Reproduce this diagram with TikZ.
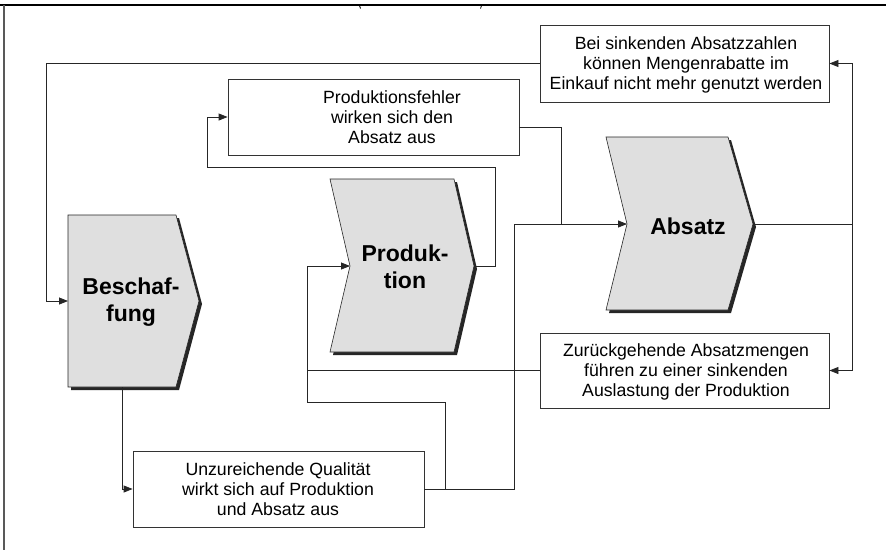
\documentclass[tikz,border=0pt]{standalone}
\usepackage{fontspec}
\setmainfont{Liberation Sans}
\usetikzlibrary{arrows.meta,calc}

\begin{document}
\begin{tikzpicture}[x=1pt,y=-1pt,
  conn/.style={draw=black!85, line width=0.8pt},
  arr/.style={conn, -{Triangle[length=9pt,width=7pt]}},
  notebox/.style={draw=black!80, line width=0.8pt, fill=white, inner sep=0pt},
  notetext/.style={align=center, inner sep=0pt, font=\fontsize{17.7}{20}\selectfont},
  procshape/.style={draw=black!85, line width=0.6pt, fill=gray!25},
  procshadow/.style={fill=black!85},
  proclabel/.style={align=center, inner sep=0pt, font=\fontsize{23}{27.5}\selectfont\bfseries}
]
\useasboundingbox (0,0) rectangle (886,550);

% page frame
\draw[line width=1.3pt] (0,5) -- (886,5);
\draw[line width=1.5pt, black!65] (4,5) -- (4,550);
\draw[line width=0.8pt] (359.5,5.5) -- (360.5,8.5);
\draw[line width=0.8pt] (481.5,5.5) -- (480.5,8.5);

% process chevrons (shadow first, then the shape)
\fill[procshadow, shift={(3,3)}] (68,215) -- (176,215) -- (199,301) -- (176,387) -- (68,387) -- cycle;
\path[procshape] (68,215) -- (176,215) -- (199,301) -- (176,387) -- (68,387) -- cycle;
\node[proclabel] (beschaffung) at (131,302) {Beschaf-\\fung};
\coordinate (beschIn) at (68,301);
\coordinate (beschOut) at (122,387);

\fill[procshadow, shift={(3,3)}] (330,179) -- (454,179) -- (474,266) -- (454,352) -- (330,352) -- (350,266) -- cycle;
\path[procshape] (330,179) -- (454,179) -- (474,266) -- (454,352) -- (330,352) -- (350,266) -- cycle;
\node[proclabel] (produktion) at (405,267) {Produk-\\tion};
\coordinate (prodIn) at (350,266);
\coordinate (prodOut) at (474,266);

\fill[procshadow, shift={(3,3)}] (606,137) -- (728,137) -- (753,224) -- (728,310) -- (606,310) -- (627,224) -- cycle;
\path[procshape] (606,137) -- (728,137) -- (753,224) -- (728,310) -- (606,310) -- (627,224) -- cycle;
\node[proclabel] (absatz) at (688,226) {Absatz};
\coordinate (absIn) at (627,224);
\coordinate (absOut) at (753,224);

% explanation boxes
\node[notebox, minimum width=289pt, minimum height=77pt] (bei) at (684.5,63.5) {};
\node[notetext] (beiText) at (686,65) {Bei sinkenden Absatzzahlen\\können Mengenrabatte im\\Einkauf nicht mehr genutzt werden};

\node[notebox, minimum width=291pt, minimum height=76pt] (fehler) at (373.5,117) {};
\node[notetext] (fehlerText) at (392,117) {Produktionsfehler\\wirken sich den\\Absatz aus};

\node[notebox, minimum width=289pt, minimum height=75pt] (zur) at (684.5,370.5) {};
\node[notetext] (zurText) at (686,372) {Zurückgehende Absatzmengen\\führen zu einer sinkenden\\Auslastung der Produktion};

\node[notebox, minimum width=291pt, minimum height=76pt] (unz) at (278.5,489) {};
\node[notetext] (unzText) at (278,489) {Unzureichende Qualität\\wirkt sich auf Produktion\\und Absatz aus};

% connectors
\draw[arr] (bei.west) -| (46,301) -- (beschIn);
\draw[arr] (beschOut) |- (unz.west);
\draw[arr] (unz.east) -- (445,489) -- (445,402) -- (307,402) -- (307,266) -- (prodIn);
\draw[arr] (unz.east) -| (514,224) -- (absIn);
\draw[arr] (prodOut) -- (495,266) -- (495,167) -- (207,167) |- (fehler.west);
\draw[conn] ($(fehler.east)+(0,10)$) -| (561,224);
\draw[conn] (zur.west) -- (307,370.5);
\draw[conn] (absOut) -- (852,224);
\draw[arr] (852,224) |- (bei.east);
\draw[arr] (852,224) |- (zur.east);
\end{tikzpicture}
\end{document}
